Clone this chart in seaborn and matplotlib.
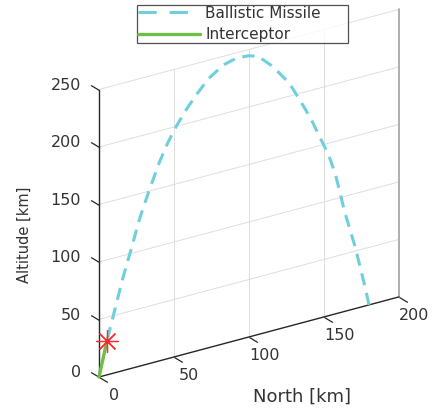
import numpy as np
import matplotlib
matplotlib.use("Agg")
import matplotlib.pyplot as plt
import seaborn as sns
from matplotlib.transforms import Affine2D
from matplotlib.path import Path
from matplotlib.markers import MarkerStyle
from matplotlib.lines import Line2D

# ---------------- data ----------------
missile_north = [180, 177.3, 174, 170.7, 167.3, 164, 160, 157.5, 153, 147, 141, 134,
                 127, 116, 106, 100, 92, 83, 73, 65, 58, 52, 46, 40, 33, 27, 22, 16,
                 11, 8.5, 5.3]
missile_alt = [0, 17, 35.5, 54, 70, 85.5, 108, 122, 140, 158, 176, 194,
               211, 229.5, 242, 244.5, 245.5, 242.5, 234, 223, 212, 201, 188, 172,
               149, 128, 106, 81, 57, 45, 29.5]
interceptor_north = [0, 5.3]
interceptor_alt = [0, 29.5]
intercept_north = [5.3]
intercept_alt = [29.5]

north_ticks = [0, 50, 100, 150, 200]
alt_ticks = [0, 50, 100, 150, 200, 250]
series_labels = ["Ballistic Missile", "Interceptor"]

# ---------------- style ----------------
sns.set_theme(style="white")
plt.rcParams["font.family"] = ["DejaVu Sans"]

C_MISSILE = "#6fcfdc"
C_INTER = "#6cbf48"
C_AXIS = "#262626"
C_GRID = "#dedede"
C_TEXT = "#333333"

W, H = 434, 408
fig = plt.figure(figsize=(W / 100, H / 100), dpi=100)
fig.patch.set_facecolor("white")

K = 0.3483                     # vertical skew of the North axis (alt units per km north)
ytop = alt_ticks[-1] + K * north_ticks[-1]
ax = fig.add_axes([99 / W, 31 / H, 300 / W, ytop * 1.15 / H])
ax.set_xlim(north_ticks[0], north_ticks[-1])
ax.set_ylim(0, ytop)
ax.axis("off")

tr = Affine2D.from_values(1, K, 0, 1, 0, 0) + ax.transData

nmin, nmax = north_ticks[0], north_ticks[-1]
amin, amax = alt_ticks[0], alt_ticks[-1]

# grid on back plane
for a in alt_ticks[1:]:
    ax.plot([nmin, nmax], [a, a], color=C_GRID, lw=0.7, transform=tr, clip_on=False, zorder=1)
for n in north_ticks[1:-1]:
    ax.plot([n, n], [amin, amax], color=C_GRID, lw=0.7, transform=tr, clip_on=False, zorder=1)
ax.plot([nmax, nmax], [amin, amax], color="#a8a8a8", lw=1.3, transform=tr, clip_on=False, zorder=1)

# axes lines
ax.plot([nmin, nmin], [amin, amax], color=C_AXIS, lw=1.0, transform=tr, clip_on=False, zorder=2)
ax.plot([nmin, nmax], [amin, amin], color=C_AXIS, lw=1.0, transform=tr, clip_on=False, zorder=2)

# tick marks
zt = MarkerStyle(Path([(0, 0), (-1, 0.6)]))
nt = MarkerStyle(Path([(0, 0), (1, -0.6)]))
ax.plot([nmin] * len(alt_ticks), alt_ticks, ls="none", marker=zt, ms=12,
        mec=C_AXIS, mew=0.9, transform=tr, clip_on=False, zorder=2)
ax.plot(north_ticks, [amin] * len(north_ticks), ls="none", marker=nt, ms=12,
        mec=C_AXIS, mew=0.9, transform=tr, clip_on=False, zorder=2)

# tick labels
for a in alt_ticks:
    ax.annotate(f"{a}", xy=(nmin, a), xycoords=tr, xytext=(-13, 3), textcoords="offset points",
                ha="right", va="center", fontsize=11.5, color=C_TEXT)
for n in north_ticks:
    ax.annotate(f"{n}", xy=(n, amin), xycoords=tr, xytext=(11, -13.5), textcoords="offset points",
                ha="center", va="center", fontsize=11.5, color=C_TEXT)

# axis labels
fig.text(302 / W, 1 - 397 / H, "North [km]", ha="center", va="center", fontsize=13, color=C_TEXT)
fig.text(24 / W, 1 - 235 / H, "Altitude [km]", ha="center", va="center", rotation=90,
         fontsize=10.5, color=C_TEXT)

# data
sns.lineplot(x=missile_north, y=missile_alt, sort=False, estimator=None, ax=ax,
             color=C_MISSILE, lw=2.2, linestyle=(0, (4, 2.6)), transform=tr,
             clip_on=False, zorder=3)
sns.lineplot(x=interceptor_north, y=interceptor_alt, sort=False, estimator=None, ax=ax,
             color=C_INTER, lw=2.4, transform=tr, clip_on=False, zorder=4)
ax.plot(intercept_north, intercept_alt, ls="none", marker=(8, 2, 0), ms=16, mec="#ff2a2a",
        mew=0.9, transform=tr, clip_on=False, zorder=5)
ax.set_xlim(nmin, nmax)
ax.set_ylim(0, ytop)
ax.axis("off")

handles = [Line2D([], [], color=C_MISSILE, lw=2.2, linestyle=(0, (6, 4.2))),
           Line2D([], [], color=C_INTER, lw=2.4)]
leg = fig.legend(handles, series_labels, loc="upper left",
                 bbox_to_anchor=(137 / W, 1 - 44 / H, 211 / W, 39 / H),
                 bbox_transform=fig.transFigure, mode="expand", borderaxespad=0,
                 fontsize=11, handlelength=4.1, handletextpad=0.33, borderpad=0.05,
                 labelspacing=0.4, fancybox=False, frameon=True)
leg.get_frame().set_edgecolor("#262626")
leg.get_frame().set_linewidth(0.9)
leg.set_zorder(10)
for t in leg.get_texts():
    t.set_color(C_TEXT)

fig.savefig("out.png", dpi=100)
